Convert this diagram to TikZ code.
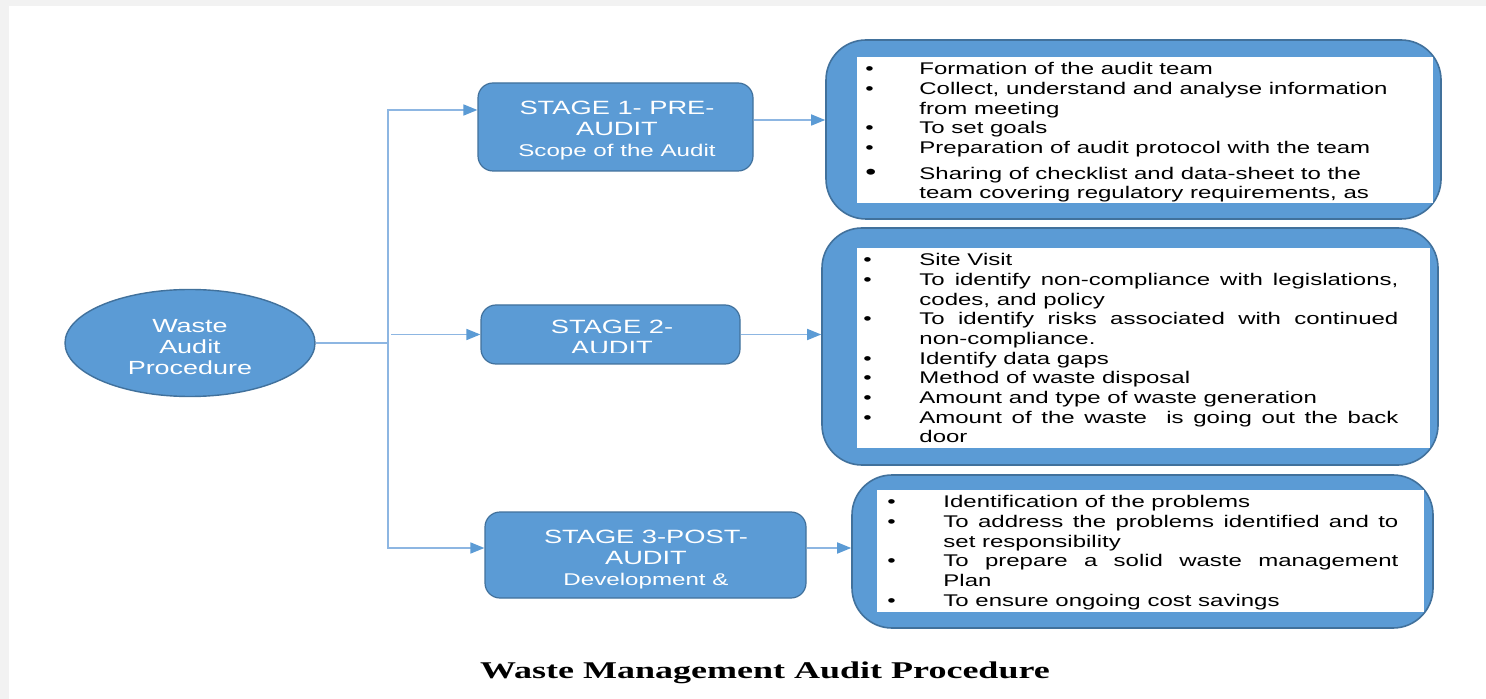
\documentclass[tikz,border=0pt]{standalone}
\usepackage{fontspec}
\setmainfont{Liberation Sans}[FakeStretch=1.42]
\newfontfamily\capfont{Liberation Serif}[FakeStretch=1.5]
\usepackage{tikz}
\usetikzlibrary{shapes.geometric}
\usetikzlibrary{arrows.meta}

\definecolor{boxblue}{HTML}{5B9BD5}
\definecolor{edgeblue}{HTML}{41719C}
\definecolor{lineblue}{HTML}{8DB6E2}

\newcommand{\bul}[1][27pt]{\makebox[#1][l]{\textbullet}}
\newcommand{\cont}[1][27pt]{\hspace*{#1}}

\begin{document}
\begin{tikzpicture}[
		x=0.5pt, y=-0.5pt,
		stagebox/.style = {
			shape=rectangle,
			draw=edgeblue,
			fill=boxblue,
			rounded corners=7.5pt,
			line width=0.6pt
		},
		stagetext/.style = {
			text=white,
			align=center,
			inner sep=0pt,
			font=\fontsize{9.6}{10.5}\selectfont
		},
		listbox/.style = {
			shape=rectangle,
			draw=edgeblue,
			fill=boxblue,
			rounded corners=20pt,
			line width=0.8pt
		},
		listpane/.style = {shape=rectangle, fill=white, inner sep=0pt},
		listtext/.style = {
			anchor=north west,
			align=left,
			inner sep=0pt,
			font=\fontsize{8.45}{9.85}\selectfont
		},
		link/.style = {
			draw=lineblue,
			line width=0.8pt,
			-{Triangle[length=7pt,width=5.5pt,color=boxblue]}
		}
		]
		% page
		\useasboundingbox (0,0) rectangle (1486,699);
		\fill[black!5] (0,0) rectangle (1486,699);
		\fill[white] (9,6) rectangle (1486,699);

		% start
		\node[shape=ellipse, draw=edgeblue, fill=boxblue, line width=0.7pt,
			inner sep=0pt, minimum width=125pt, minimum height=53.5pt] (proc) at (190,343) {};
		\node[stagetext, font=\fontsize{9.5}{10.5}\selectfont] (proctxt) at (190,347) {Waste\\Audit\\Procedure};

		% stages
		\node[stagebox, minimum width=137.5pt, minimum height=44pt] (stage1) at (615.5,127) {};
		\node[stagetext] (stage1txt) at (617,130.5)
			{STAGE 1- PRE-\\AUDIT\\{\fontsize{8.5}{10.5}\selectfont Scope of the Audit}};
		\node[stagebox, minimum width=129.5pt, minimum height=29.5pt] (stage2) at (610.5,334.5) {};
		\begin{scope}
			\clip (481,305) rectangle (740,352.5);
			\node[stagetext, anchor=north] (stage2txt) at (612,320) {STAGE 2-\\AUDIT};
		\end{scope}
		\node[stagebox, minimum width=160.5pt, minimum height=43pt] (stage3) at (645.5,555) {};
		\node[stagetext] (stage3txt) at (646,559.5)
			{STAGE 3-POST-\\AUDIT\\{\fontsize{8.5}{10.5}\selectfont Development \&}};

		% lists
		\node[listbox, minimum width=307.5pt, minimum height=89.5pt] (list1) at (1133.5,129.5) {};
		\node[listpane, minimum width=288pt, minimum height=73pt] (pane1) at (1145,130) {};
		\node[listtext] (text1) at (865,62) {%
			\bul Formation of the audit team\\
			\bul Collect, understand and analyse information\\
			\cont from meeting\\
			\bul To set goals\\
			\bul Preparation of audit protocol with the team\\[3pt]
			\makebox[27pt][l]{\fontsize{11}{11}\selectfont\textbullet}Sharing of checklist and data-sheet to the\\
			\cont team covering regulatory requirements, as};

		\node[listbox, minimum width=308pt, minimum height=118.5pt] (list2) at (1130,346.5) {};
		\node[listpane, minimum width=286.5pt, minimum height=100pt] (pane2) at (1143.5,348) {};
		\node[listtext] (text2) at (863,253) {%
			\bul[28pt]Site Visit\\
			\bul[28pt]\makebox[239.5pt][s]{To identify non-compliance with legislations,}\\
			\cont[28pt]codes, and policy\\
			\bul[28pt]\makebox[239.5pt][s]{To identify risks associated with continued}\\
			\cont[28pt]non-compliance.\\
			\bul[28pt]Identify data gaps\\
			\bul[28pt]Method of waste disposal\\
			\bul[28pt]Amount and type of waste generation\\
			\bul[28pt]\makebox[239.5pt][s]{Amount of the waste\ \ is going out the back}\\
			\cont[28pt]door};

		\node[listbox, minimum width=290.5pt, minimum height=76.5pt] (list3) at (1142.5,551.5) {};
		\node[listpane, minimum width=273.5pt, minimum height=61pt] (pane3) at (1150.5,551) {};
		\node[listtext] (text3) at (887,495) {%
			\bul[28pt]Identification of the problems\\
			\bul[28pt]\makebox[227.5pt][s]{To address the problems identified and to}\\
			\cont[28pt]set responsibility\\
			\bul[28pt]\makebox[227.5pt][s]{To prepare a solid waste management}\\
			\cont[28pt]Plan\\
			\bul[28pt]To ensure ongoing cost savings};

		% connectors
		\coordinate (fork) at (388,343);
		\draw[link] (proc.east) -- (fork) |- ([yshift=8.5pt]stage1.west);
		\draw[link] (fork) |- ([yshift=3.5pt]stage3.west);
		\draw[link] ([xshift=1.5pt]fork |- stage2.west) -- (stage2.west);
		\draw[link] ([yshift=3.5pt]stage1.east) -- ([yshift=3.5pt]stage1.east -| list1.west);
		\draw[link] (stage2.east) -- (stage2.east -| list2.west);
		\draw[link] ([yshift=3.5pt]stage3.east) -- ([yshift=3.5pt]stage3.east -| list3.west);

		% caption
		\node[anchor=base, font=\capfont\bfseries\fontsize{12}{14}\selectfont] (title) at (765,678)
			{Waste Management Audit Procedure};
	\end{tikzpicture}
\end{document}
